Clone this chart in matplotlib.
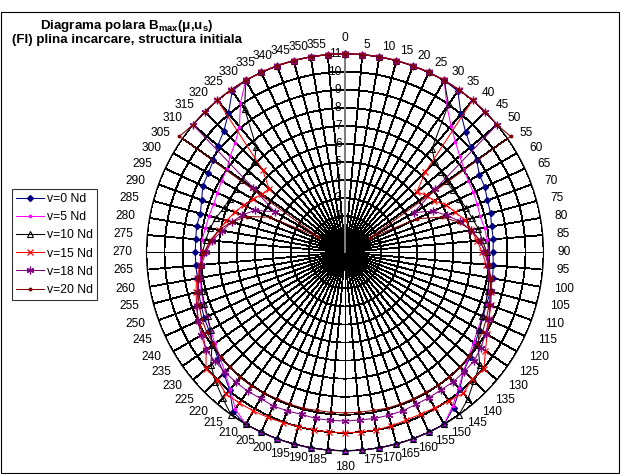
import numpy as np
import matplotlib
matplotlib.use("Agg")
import matplotlib.pyplot as plt
from matplotlib.patches import Rectangle

plt.rcParams['font.family'] = ['Liberation Sans', 'DejaVu Sans']
plt.rcParams['mathtext.fontset'] = 'custom'
plt.rcParams['mathtext.rm'] = 'Liberation Sans'
plt.rcParams['mathtext.bf'] = 'Liberation Sans:bold'

# category angles (degrees)
angles = list(range(0, 360, 5))

v0 = [11, 11, 11, 11, 11, 11, 11, 10.9, 10.0, 9.45, 9.1, 8.9, 8.6, 8.55, 8.4, 8.35, 8.25, 8.25,
      8.2, 8.25, 8.3, 8.35, 8.35, 8.45, 8.6, 8.8, 9.05, 9.3, 9.9, 10.5, 11, 11, 11, 11, 11, 11,
      11, 11, 11, 11, 11, 11, 11, 10.8, 9.95, 9.5, 9.2, 8.9, 8.7, 8.6, 8.5, 8.4, 8.3, 8.3,
      8.3, 8.3, 8.35, 8.3, 8.45, 8.7, 8.75, 8.9, 9.2, 9.5, 10.05, 10.9, 11, 11, 11, 11, 11, 11]
v5 = [11, 11, 11, 11, 11, 11, 11, 9.85, 9.15, 8.65, 8.3, 8.05, 7.9, 7.85, 7.8, 7.75, 7.85, 7.9,
      7.95, 8.0, 8.1, 8.2, 8.3, 8.4, 8.5, 8.7, 8.95, 9.3, 9.8, 10.4, 11, 11, 11, 11, 11, 11,
      11, 11, 11, 11, 11, 11, 11, 10.6, 9.9, 9.4, 9.05, 8.8, 8.6, 8.45, 8.35, 8.25, 8.15, 8.05,
      8.0, 7.95, 7.85, 7.8, 7.75, 7.8, 7.9, 8.0, 8.3, 8.6, 9.1, 10.1, 11, 11, 11, 11, 11, 11]
v10 = [11, 11, 11, 11, 11, 11, 11, 10.0, 7.5, 7.05, 6.95, 6.85, 6.9, 7.0, 7.15, 7.3, 7.5, 7.65,
       7.85, 8.0, 8.1, 8.2, 8.3, 8.4, 8.6, 9.0, 9.75, 10.1, 10.6, 11, 11, 11, 11, 11, 11, 11,
       11, 11, 11, 11, 11, 11, 11, 11, 10.55, 10.15, 9.7, 9.0, 8.6, 8.4, 8.3, 8.2, 8.1, 8.0,
       7.9, 7.75, 7.6, 7.4, 7.15, 7.05, 7.0, 7.0, 7.0, 7.1, 7.65, 9.7, 11, 11, 11, 11, 11, 11]
v15 = [11, 11, 11, 11, 11, 11, 11, 11, 11, 6.3, 5.2, 5.5, 5.7, 6.2, 6.5, 6.9, 7.1, 7.35,
       7.6, 7.85, 8.2, 8.4, 8.6, 8.8, 9.1, 9.5, 10.05, 9.95, 10.2, 10.05, 9.95, 9.9, 9.9, 9.95, 10.0, 10.0,
       10.0, 10.0, 10.0, 10.0, 10.05, 10.1, 10.15, 10.2, 10.25, 10.0, 10.05, 9.4, 9.1, 8.95, 8.75, 8.55, 8.35, 8.05,
       7.8, 7.4, 7.1, 6.8, 6.5, 6.2, 5.9, 5.6, 5.5, 6.45, 11, 11, 11, 11, 11, 11, 11, 11]
v18 = [11, 11, 11, 11, 11, 11, 11, 11, 11, 11, 11, 6.1, 4.4, 5.4, 6.0, 6.6, 7.1, 7.5,
       7.75, 7.95, 8.15, 8.35, 8.55, 8.8, 9.0, 9.2, 9.35, 9.35, 9.35, 9.3, 9.3, 9.3, 9.35, 9.35, 9.35, 9.33,
       9.35, 9.35, 9.35, 9.3, 9.35, 9.4, 9.35, 9.4, 9.4, 9.4, 9.4, 9.4, 9.2, 9.0, 8.75, 8.45, 8.2, 8.0,
       7.7, 7.4, 6.9, 6.5, 6.05, 5.5, 4.5, 6.2, 11, 11, 11, 11, 11, 11, 11, 11, 11, 11]
v20 = [11, 11, 11, 11, 11, 11, 11, 11, 11, 11, 11, 11.2, 1.6, 4.4, 5.7, 6.5, 7.1, 7.5,
       7.8, 8.0, 8.2, 8.35, 8.5, 8.65, 8.8, 8.9, 8.95, 9.0, 9.0, 9.0, 8.95, 8.95, 8.95, 8.95, 8.9, 8.9,
       8.9, 8.9, 8.9, 8.95, 8.95, 8.95, 9.0, 9.05, 9.05, 9.0, 9.0, 8.9, 8.85, 8.75, 8.6, 8.45, 8.25, 8.05,
       7.8, 7.5, 7.1, 6.5, 5.8, 4.6, 1.7, 11.2, 11, 11, 11, 11, 11, 11, 11, 11, 11, 11]

series_names = ["v=0 Nd", "v=5 Nd", "v=10 Nd", "v=15 Nd", "v=18 Nd", "v=20 Nd"]
series_values = [v0, v5, v10, v15, v18, v20]
radial_ticks = list(range(1, 12))

styles = [
    dict(color='#000080', marker='D', ms=3.0, mfc='#000080', mec='#000080'),
    dict(color='#FF00FF', marker='s', ms=1.8, mfc='#FF00FF', mec='#FF00FF'),
    dict(color='#000000', marker='^', ms=4.5, mfc='none', mec='#000000', mew=0.8),
    dict(color='#FF0000', marker='x', ms=4.5, mec='#FF0000', mew=0.9),
    dict(color='#800080', marker=(6, 2, 0), ms=5.5, mec='#800080', mew=0.9),
    dict(color='#800000', marker='o', ms=1.8, mfc='#800000', mec='#800000'),
]

W, H = 621, 474
fig = plt.figure(figsize=(W / 100, H / 100), dpi=100)

cx, cy, R = 345.0, 252.3, 198.5
ax = fig.add_axes([(cx - R) / W, (H - cy - R) / H, 2 * R / W, 2 * R / H], projection='polar')
ax.set_theta_zero_location('N')
ax.set_theta_direction(-1)
ax.set_ylim(0, 11)
ax.set_yticks(radial_ticks)
ax.set_yticklabels([])
ax.set_xticks(np.deg2rad(angles))
ax.set_xticklabels([])
ax.grid(True, color='black', linewidth=0.6)
for gl in ax.xaxis.get_gridlines() + ax.yaxis.get_gridlines():
    gl.set_antialiased(False)
ax.spines['polar'].set_color('black')
ax.spines['polar'].set_linewidth(0.8)
ax.patch.set_facecolor('white')

# value axis along the 0 spoke
ax.plot([0, 0], [0, 11], color='#808080', lw=1.4, zorder=2.5)

th = np.deg2rad(angles + [angles[0]])
handles = []
for name, vals, st in zip(series_names, series_values, styles):
    r = list(vals) + [vals[0]]
    ln, = ax.plot(th, r, lw=0.75, label=name, clip_on=False, zorder=3, **st)
    handles.append(ln)

# radial value labels
for v in radial_ticks:
    ax.annotate(str(v), xy=(0, v), xytext=(-2.5, 0), textcoords='offset points',
                ha='right', va='center', fontsize=8.6, color='black', zorder=2)

# category labels around the rim (offsets in pixels, converted to points)
px = 72 / 100
for a in angles:
    t = np.deg2rad(a)
    s, c = np.sin(t), np.cos(t)
    if abs(s) < 0.05:
        ha, va = 'center', ('bottom' if c > 0 else 'top')
    else:
        ha, va = ('left' if s > 0 else 'right'), 'center'
    ax.annotate(str(a), xy=(t, 11), xytext=(14 * s * px, 10 * c * px), textcoords='offset points',
                ha=ha, va=va, fontsize=8.6, annotation_clip=False)

# title
fig.text(127 / W, 1 - 28.5 / H, r'Diagrama polara B$_{\mathbf{max}}$(μ,u$_{\mathbf{s}}$)',
         ha='center', va='baseline', fontsize=9.6, fontweight='bold')
fig.text(127 / W, 1 - 43.3 / H, '(FI) plina incarcare, structura initiala',
         ha='center', va='baseline', fontsize=9.6, fontweight='bold')

leg = fig.legend(handles=handles, loc='upper left', bbox_to_anchor=(12 / W, 1 - 189 / H),
                 bbox_transform=fig.transFigure, fontsize=8.8, frameon=True, fancybox=False,
                 edgecolor='black', borderaxespad=0, borderpad=0.35, handlelength=2.3,
                 handletextpad=0.2, labelspacing=0.5)
leg.get_frame().set_linewidth(0.8)

# chart area border
fig.patches.append(Rectangle((1 / W, 1 / H), 618 / W, 461 / H, transform=fig.transFigure,
                             fill=False, edgecolor='black', linewidth=0.8))

fig.savefig('out.png', dpi=100)
